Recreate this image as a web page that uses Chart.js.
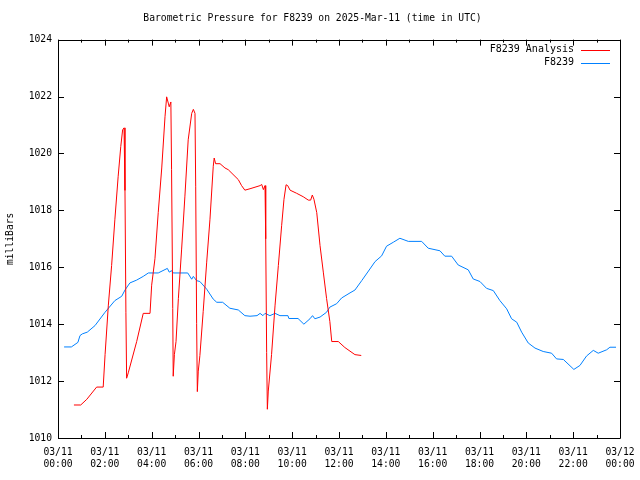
<!DOCTYPE html>
<html>
<head>
<meta charset="utf-8">
<script src="https://cdn.jsdelivr.net/npm/chart.js@4/dist/chart.umd.min.js"></script>
<style>
  html, body { margin: 0; padding: 0; background: #fff; }
  #wrap { width: 640px; height: 480px; }
</style>
</head>
<body>
<div id="wrap"><canvas id="baro"></canvas></div>
<script>
// hours since 03/11 00:00 UTC
const analysisHours = [0.68, 0.97, 1.23, 1.65, 1.93, 2.01, 2.15, 2.29, 2.43, 2.57, 2.68, 2.76, 2.82, 2.86, 2.90, 2.93,
  3.00, 3.36, 3.64, 3.93, 4.00, 4.14, 4.28, 4.43, 4.57, 4.64, 4.71, 4.75, 4.82, 4.85, 4.90, 4.92,
  4.97, 5.04, 5.14, 5.28, 5.42, 5.56, 5.71, 5.78, 5.85, 5.88, 5.92, 5.95, 5.99, 6.06, 6.20, 6.35,
  6.49, 6.63, 6.67, 6.73, 6.92, 7.13, 7.27, 7.70, 7.84, 7.98, 8.20, 8.63, 8.70, 8.77, 8.84, 8.87,
  8.91, 8.94, 8.98, 9.12, 9.27, 9.41, 9.55, 9.65, 9.74, 9.81, 9.91, 10.19, 10.47, 10.69, 10.79, 10.86,
  10.93, 11.05, 11.19, 11.33, 11.47, 11.61, 11.69, 11.97, 12.25, 12.68, 12.95];
const analysisMb = [1011.16, 1011.16, 1011.36, 1011.79, 1011.79, 1012.93, 1014.67, 1016.06, 1017.69, 1019.2, 1020.24, 1020.83, 1020.9, 1018.7, 1014.4, 1012.1,
  1012.29, 1013.39, 1014.38, 1014.38, 1015.37, 1016.3, 1017.92, 1019.49, 1021.29, 1021.99, 1021.77, 1021.64, 1021.81, 1019.43, 1014.55, 1012.17,
  1012.93, 1013.39, 1014.9, 1016.64, 1018.5, 1020.48, 1021.41, 1021.55, 1021.41, 1018.85, 1014.03, 1011.63, 1012.35, 1012.9, 1014.44, 1016.18,
  1017.69, 1019.55, 1019.84, 1019.64, 1019.64, 1019.49, 1019.43, 1019.08, 1018.87, 1018.71, 1018.76, 1018.87, 1018.91, 1018.73, 1018.87, 1017.0,
  1013.0, 1011.01, 1011.65, 1012.93, 1014.67, 1016.06, 1017.46, 1018.39, 1018.9, 1018.87, 1018.71, 1018.6, 1018.48, 1018.36, 1018.36, 1018.54,
  1018.39, 1017.92, 1016.76, 1015.83, 1014.9, 1014.09, 1013.39, 1013.39, 1013.18, 1012.93, 1012.9];

const stationHours = [0.26, 0.57, 0.85, 0.94, 1.04, 1.25, 1.58, 2.01, 2.43, 2.72, 2.86, 3.07, 3.36, 3.64, 3.86, 4.28,
  4.67, 4.75, 4.85, 4.92, 5.54, 5.71, 5.78, 5.92, 6.06, 6.35, 6.63, 6.78, 7.03, 7.34, 7.70, 7.98,
  8.20, 8.50, 8.63, 8.75, 8.84, 9.05, 9.27, 9.48, 9.82, 9.86, 10.25, 10.50, 10.76, 10.87, 10.97, 11.19,
  11.47, 11.61, 11.90, 12.11, 12.47, 12.68, 12.97, 13.32, 13.54, 13.82, 14.03, 14.32, 14.60, 14.96, 15.53, 15.81,
  16.31, 16.52, 16.81, 17.09, 17.52, 17.73, 18.02, 18.30, 18.59, 18.87, 19.16, 19.37, 19.59, 19.80, 20.08, 20.37,
  20.72, 21.08, 21.29, 21.58, 22.03, 22.29, 22.57, 22.86, 23.07, 23.43, 23.57, 23.83];
const stationMb = [1013.2, 1013.2, 1013.36, 1013.6, 1013.66, 1013.72, 1013.95, 1014.42, 1014.83, 1014.98, 1015.2, 1015.45, 1015.55, 1015.68, 1015.8, 1015.8,
  1015.96, 1015.83, 1015.88, 1015.8, 1015.8, 1015.58, 1015.68, 1015.53, 1015.5, 1015.23, 1014.88, 1014.77, 1014.77, 1014.56, 1014.5, 1014.3,
  1014.28, 1014.3, 1014.38, 1014.3, 1014.38, 1014.3, 1014.38, 1014.3, 1014.3, 1014.2, 1014.2, 1014.0, 1014.19, 1014.3, 1014.19, 1014.25,
  1014.42, 1014.6, 1014.72, 1014.92, 1015.1, 1015.2, 1015.53, 1015.94, 1016.2, 1016.4, 1016.74, 1016.88, 1017.02, 1016.91, 1016.91, 1016.67,
  1016.58, 1016.39, 1016.39, 1016.08, 1015.91, 1015.59, 1015.5, 1015.26, 1015.18, 1014.83, 1014.54, 1014.19, 1014.07, 1013.72, 1013.34, 1013.16,
  1013.04, 1012.98, 1012.78, 1012.76, 1012.41, 1012.55, 1012.88, 1013.08, 1012.98, 1013.1, 1013.19, 1013.19];

const tickDays = ['03/11', '03/11', '03/11', '03/11', '03/11', '03/11', '03/11', '03/11', '03/11', '03/11', '03/11', '03/11', '03/12'];
const tickTimes = ['00:00', '02:00', '04:00', '06:00', '08:00', '10:00', '12:00', '14:00', '16:00', '18:00', '20:00', '22:00', '00:00'];

const FONT = 'DejaVu Sans Mono';

// gnuplot style: box border, inward ticks on all four sides, legend inside top-right
const gnuFrame = {
  id: 'gnuFrame',
  afterDraw(chart) {
    const { ctx, chartArea: a, scales: { x, y } } = chart;
    ctx.save();
    ctx.strokeStyle = '#000';
    ctx.lineWidth = 1;
    ctx.beginPath();
    ctx.rect(Math.round(a.left) + 0.5, Math.round(a.top) + 0.5,
      Math.round(a.right - a.left), Math.round(a.bottom - a.top));
    for (let h = 0; h <= 24; h++) {
      const px = Math.round(x.getPixelForValue(h)) + 0.5;
      const len = h % 2 === 0 ? 6 : 3;
      ctx.moveTo(px, a.bottom); ctx.lineTo(px, a.bottom - len);
      ctx.moveTo(px, a.top); ctx.lineTo(px, a.top + len);
    }
    for (let v = 1010; v <= 1024; v += 2) {
      const py = Math.round(y.getPixelForValue(v)) + 0.5;
      ctx.moveTo(a.left, py); ctx.lineTo(a.left + 6, py);
      ctx.moveTo(a.right, py); ctx.lineTo(a.right - 6, py);
    }
    ctx.stroke();

    ctx.font = '10px "' + FONT + '"';
    ctx.textAlign = 'right';
    ctx.textBaseline = 'middle';
    chart.data.datasets.forEach((ds, i) => {
      const ly = a.top + 10 + i * 13;
      ctx.fillStyle = '#000';
      ctx.fillText(ds.label, a.right - 46, ly);
      ctx.strokeStyle = ds.borderColor;
      ctx.beginPath();
      ctx.moveTo(a.right - 39, Math.round(ly) + 0.5);
      ctx.lineTo(a.right - 10, Math.round(ly) + 0.5);
      ctx.stroke();
    });
    ctx.restore();
  }
};

new Chart(document.getElementById('baro'), {
  type: 'line',
  data: {
    datasets: [{
      label: 'F8239 Analysis',
      data: analysisHours.map((h, i) => ({ x: h, y: analysisMb[i] })),
      borderColor: '#ff0000',
      borderWidth: 1,
      pointRadius: 0,
      tension: 0
    }, {
      label: 'F8239',
      data: stationHours.map((h, i) => ({ x: h, y: stationMb[i] })),
      borderColor: '#0080ff',
      borderWidth: 1,
      pointRadius: 0,
      tension: 0
    }]
  },
  options: {
    responsive: true,
    maintainAspectRatio: false,
    animation: false,
    devicePixelRatio: 1,
    layout: { padding: { left: 5, right: 20, top: 0, bottom: 0 } },
    plugins: {
      legend: { display: false },
      tooltip: { enabled: false },
      title: {
        display: true,
        text: 'Barometric Pressure for F8239 on 2025-Mar-11 (time in UTC)',
        color: '#000',
        font: { family: FONT, size: 9.7, weight: 'normal' },
        padding: { top: 13, bottom: 15 }
      }
    },
    scales: {
      x: {
        type: 'linear',
        min: 0,
        max: 24,
        afterFit(scale) {
          scale.height = 42;
          scale.paddingLeft = 0;
          scale.paddingRight = 0;
        },
        afterBuildTicks(scale) {
          scale.ticks = tickTimes.map((_, i) => ({ value: i * 2 }));
        },
        grid: { display: false, drawTicks: false },
        border: { display: false },
        ticks: {
          color: '#000',
          font: { family: FONT, size: 9.7 },
          padding: 9,
          maxRotation: 0,
          autoSkip: false,
          callback(value) {
            const i = Math.round(value / 2);
            return [tickDays[i], tickTimes[i]];
          }
        }
      },
      y: {
        min: 1010,
        max: 1024,
        afterFit(scale) { scale.width = 53; },
        grid: { display: false, drawTicks: false },
        border: { display: false },
        ticks: {
          stepSize: 2,
          color: '#000',
          font: { family: FONT, size: 9.7 },
          padding: 6,
          callback: (value) => String(value)
        },
        title: {
          display: true,
          text: 'milliBars',
          color: '#000',
          font: { family: FONT, size: 9.7 },
          padding: 0
        }
      }
    }
  },
  plugins: [gnuFrame]
});
</script>
</body>
</html>
